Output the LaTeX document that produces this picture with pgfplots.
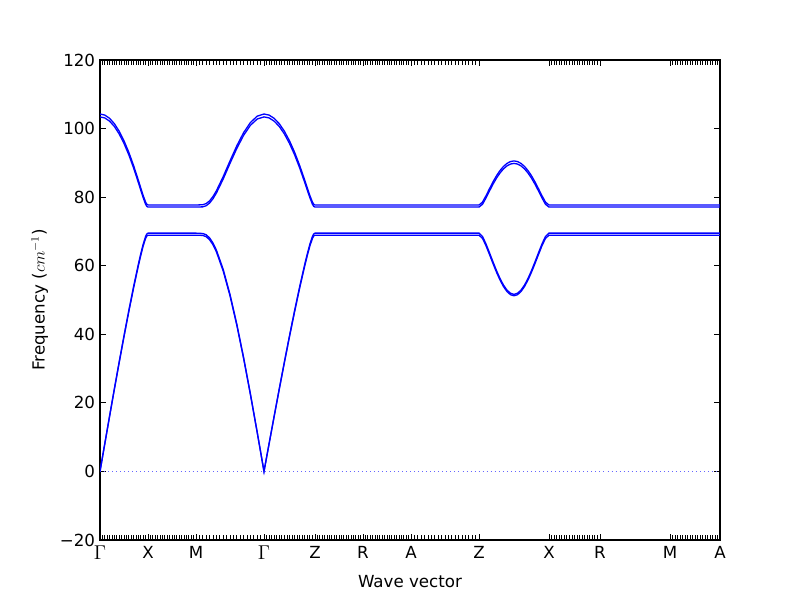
\documentclass[border=0pt]{standalone}
\usepackage{fontspec}
\setmainfont{DejaVu Sans}
\usepackage{pgfplots}
\pgfplotsset{compat=1.18}
\usepackage{pgfplotstable}

% path length along Gamma-X-M-Gamma-Z-R-A-Z-X-R-M-A, two nearly degenerate pairs of bands
\pgfplotstableread{
x acA acB opA opB
0 0 0 104.25 103.40
4.8 8.13 8.06 103.93 103.10
9.6 16.20 16.07 102.98 102.16
14.4 24.18 23.99 101.41 100.60
19.2 31.99 31.73 99.22 98.43
24.0 39.60 39.28 96.43 95.66
28.8 46.93 46.55 93.09 92.35
33.6 53.94 53.51 89.21 88.50
38.4 60.49 60.01 84.90 84.22
40.8 63.53 63.02 82.65 81.99
43.2 66.30 65.77 80.45 79.81
45.6 68.53 67.98 78.56 77.93
46.8 69.24 68.69 77.93 77.31
48 69.50 68.90 77.70 77.10
96 69.50 68.90 77.70 77.10
102.8 69.40 68.84 77.79 77.17
106.2 69.01 68.46 78.13 77.50
109.6 68.12 67.58 78.91 78.28
113.0 66.63 66.10 80.18 79.54
116.4 64.56 64.04 81.85 81.20
123.2 58.93 58.46 85.99 85.30
130.0 51.64 51.23 90.56 89.84
136.8 42.99 42.65 94.97 94.21
143.6 33.23 32.96 98.81 98.02
150.4 22.63 22.45 101.76 100.95
157.2 11.46 11.37 103.62 102.79
164 0 0 104.25 103.40
169.1 8.13 8.06 103.93 103.10
174.2 16.20 16.07 102.98 102.16
179.3 24.18 23.99 101.41 100.60
184.4 31.99 31.73 99.22 98.43
189.5 39.60 39.28 96.43 95.66
194.6 46.93 46.55 93.09 92.35
199.7 53.94 53.51 89.21 88.50
204.8 60.49 60.01 84.90 84.22
207.35 63.53 63.02 82.65 81.99
209.9 66.30 65.77 80.45 79.81
212.45 68.53 67.98 78.56 77.93
213.725 69.24 68.69 77.93 77.31
215 69.50 68.90 77.70 77.10
379 69.50 68.90 77.70 77.10
382.5 68.54 67.99 78.55 77.92
386 66.36 65.83 80.40 79.76
389.5 63.78 63.27 82.46 81.80
393 61.12 60.63 84.45 83.77
396.5 58.58 58.11 86.23 85.54
400 56.28 55.83 87.75 87.05
403.5 54.35 53.92 88.96 88.25
407 52.88 52.46 89.84 89.12
410.5 51.96 51.54 90.38 89.66
414 51.64 51.23 90.56 89.84
417.5 51.96 51.54 90.38 89.66
421 52.88 52.46 89.84 89.12
424.5 54.35 53.92 88.96 88.25
428 56.28 55.83 87.75 87.05
431.5 58.58 58.11 86.23 85.54
435 61.12 60.63 84.45 83.77
438.5 63.78 63.27 82.46 81.80
442 66.36 65.83 80.40 79.76
445.5 68.54 67.99 78.55 77.92
449 69.50 68.90 77.70 77.10
620 69.50 68.90 77.70 77.10
}\bands

\newcommand{\G}{{\fontsize{14}{16}\selectfont$\Gamma$}}

\begin{document}
\begin{tikzpicture}
\path[use as bounding box] (0,0) rectangle (576pt,432pt);
\begin{axis}[
    at={(72pt,43.2pt)}, anchor=south west,
    scale only axis,
    width=446.4pt, height=345.6pt,
    xmin=0, xmax=620, ymin=-20, ymax=120,
    xtick={0,48,96,164,215,263,311,379,449,500,570,620},
    xticklabels={\G,X,M,\G,Z,R,A,Z,X,R,M,A},
    minor xtick={0,2.4,...,96,99.4,102.8,...,164,166.55,169.1,...,215,217.4,219.8,...,311,314.4,317.8,...,379,449,451.55,...,500,570,572.5,...,620},
    ytick={-20,0,20,40,60,80,100,120},
    yticklabels={−20,0,20,40,60,80,100,120},
    xlabel={Wave vector},
    ylabel={Frequency ($cm^{-1}$)},
    tick label style={font=\fontsize{12}{14}\selectfont},
    label style={font=\fontsize{12}{14}\selectfont},
    axis line style={line width=0.75pt},
    tick style={black, line width=0.6pt},
    major tick length=4pt,
    minor tick length=3.6pt,
    xticklabel style={yshift=-1pt, anchor=north},
    xlabel style={yshift=-4pt},
    ylabel style={yshift=1.6pt},
]
\addplot[blue!60, line width=0.4pt, dash pattern=on 0.6pt off 2.3pt] coordinates {(0,0) (620,0)};
\addplot[blue, line width=0.95pt] table[x=x, y=acA] {\bands};
\addplot[blue, line width=0.95pt] table[x=x, y=acB] {\bands};
\addplot[blue, line width=0.95pt] table[x=x, y=opA] {\bands};
\addplot[blue, line width=0.95pt] table[x=x, y=opB] {\bands};
\end{axis}
\end{tikzpicture}
\end{document}
